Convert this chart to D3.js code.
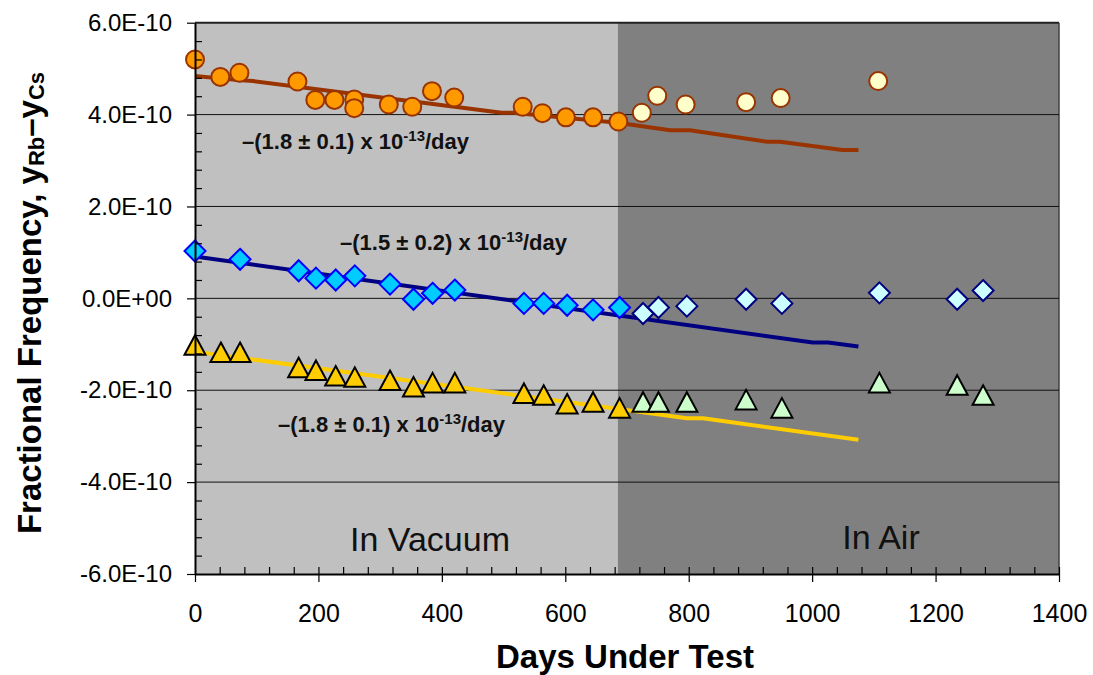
<!DOCTYPE html>
<html>
<head>
<meta charset="utf-8">
<script src="https://cdn.jsdelivr.net/npm/d3@7"></script>
<style>
  body { margin: 0; background: #fff; }
  text { font-family: "Liberation Sans", Arial, sans-serif; }
</style>
</head>
<body>
<svg id="chart" width="1093" height="675"></svg>
<script>
// all frequency values are in units of 1E-10
const vacuumEnd = 685; // day the clocks left the vacuum chamber

// Rb (circles)
const rbVacDays = [0, 41, 72, 166, 195, 226, 258, 258, 314, 352, 384, 420, 531, 563, 601, 645, 686];
const rbVacVals = [5.20, 4.82, 4.91, 4.72, 4.32, 4.32, 4.33, 4.14, 4.22, 4.17, 4.51, 4.37, 4.17, 4.03, 3.94, 3.94, 3.85];
const rbAirDays = [724, 749, 795, 893, 949, 1107];
const rbAirVals = [4.04, 4.41, 4.22, 4.27, 4.36, 4.73];
const rbFitDays = [0, 70, 94, 497, 515, 685, 770, 802, 927, 948, 1049, 1075];
const rbFitVals = [4.84, 4.75, 4.73, 4.04, 4.04, 3.82, 3.66, 3.66, 3.41, 3.41, 3.23, 3.23];

// diamonds
const dVacDays = [0, 73, 168, 196, 228, 259, 316, 354, 385, 421, 533, 565, 603, 645, 688];
const dVacVals = [1.03, 0.85, 0.60, 0.44, 0.40, 0.49, 0.31, -0.02, 0.11, 0.18, -0.11, -0.11, -0.15, -0.25, -0.20];
const dAirDays = [726, 751, 797, 893, 951, 1109, 1235, 1277];
const dAirVals = [-0.33, -0.20, -0.17, -0.02, -0.11, 0.12, -0.02, 0.17];
const dFitDays = [0, 1001, 1026, 1075];
const dFitVals = [0.91, -0.96, -0.96, -1.05];

// triangles
const tVacDays = [0, 42, 73, 168, 196, 228, 259, 316, 354, 385, 421, 533, 565, 603, 645, 688];
const tVacVals = [-1.02, -1.18, -1.18, -1.51, -1.57, -1.69, -1.72, -1.79, -1.93, -1.84, -1.84, -2.07, -2.11, -2.30, -2.26, -2.39];
const tAirDays = [726, 751, 797, 893, 951, 1109, 1235, 1277];
const tAirVals = [-2.26, -2.26, -2.26, -2.21, -2.39, -1.84, -1.89, -2.11];
const tFitDays = [0, 797, 823, 1075];
const tFitVals = [-1.16, -2.61, -2.61, -3.08];

const xTicks = [0, 200, 400, 600, 800, 1000, 1200, 1400];
const yTicks = [-6, -4, -2, 0, 2, 4, 6];

const svg = d3.select("#chart");
const font = "'Liberation Sans', Arial, sans-serif";

const x = d3.scaleLinear().domain([0, 1400]).range([195, 1059]);
const y = d3.scaleLinear().domain([-6, 6]).range([574, 22.7]);

// shaded regions
svg.append("rect")
  .attr("x", x(0)).attr("y", y(6))
  .attr("width", x(vacuumEnd) - x(0)).attr("height", y(-6) - y(6))
  .attr("fill", "#c0c0c0");
svg.append("rect")
  .attr("x", x(vacuumEnd)).attr("y", y(6))
  .attr("width", x(1400) - x(vacuumEnd)).attr("height", y(-6) - y(6))
  .attr("fill", "#808080");
svg.append("line")
  .attr("x1", x(1400)).attr("x2", x(1400)).attr("y1", y(6)).attr("y2", y(-6))
  .attr("stroke", "#404040").attr("stroke-width", 1.5);

// gridlines
svg.append("g")
  .selectAll("line")
  .data(yTicks.filter((d) => d > -6))
  .join("line")
  .attr("x1", x(0)).attr("x2", x(1400))
  .attr("y1", (d) => y(d)).attr("y2", (d) => y(d))
  .attr("stroke", (d) => d === 6 ? "#222" : "#111")
  .attr("stroke-width", (d) => d === 6 ? 2 : 1);

// region labels
svg.append("text").attr("x", 430).attr("y", 551)
  .attr("text-anchor", "middle").attr("font-size", 34).attr("fill", "#111")
  .text("In Vacuum");
svg.append("text").attr("x", 881).attr("y", 549)
  .attr("text-anchor", "middle").attr("font-size", 34).attr("fill", "#111")
  .text("In Air");

// fit lines
const line = d3.line().x((d) => x(d[0])).y((d) => y(d[1]));
const fits = [
  [rbFitDays, rbFitVals, "#993300"],
  [dFitDays, dFitVals, "#000080"],
  [tFitDays, tFitVals, "#ffcc00"]
];
fits.forEach(([days, vals, color]) => {
  svg.append("path")
    .datum(d3.zip(days, vals))
    .attr("d", line)
    .attr("fill", "none")
    .attr("stroke", color)
    .attr("stroke-width", 4)
    .attr("stroke-linejoin", "round");
});

// markers
function markers(days, vals, shape, fill, stroke) {
  svg.append("g")
    .selectAll("path")
    .data(d3.zip(days, vals))
    .join("path")
    .attr("transform", (d) => `translate(${x(d[0])},${y(d[1])})`)
    .attr("d", shape)
    .attr("fill", fill)
    .attr("stroke", stroke)
    .attr("stroke-width", 2)
    .attr("stroke-linejoin", "miter");
}
const circle = "M9,0A9,9 0 1,1 -9,0A9,9 0 1,1 9,0Z";
const diamond = "M0,-10.5L10.5,0L0,10.5L-10.5,0Z";
const triangle = "M0,-10L10.5,9.5L-10.5,9.5Z";

markers(rbVacDays, rbVacVals, circle, "#ff9900", "#993300");
markers(rbAirDays, rbAirVals, circle, "#ffffcc", "#993300");
markers(dVacDays, dVacVals, diamond, "#00ccff", "#0000ff");
markers(dAirDays, dAirVals, diamond, "#ccffff", "#000080");
markers(tVacDays, tVacVals, triangle, "#ffcc00", "#000");
markers(tAirDays, tAirVals, triangle, "#ccffcc", "#000");

// slope annotations
function note(px, py, rate, err) {
  const t = svg.append("text").attr("x", px).attr("y", py)
    .attr("font-size", 22).attr("font-weight", "bold").attr("fill", "#111");
  t.append("tspan").text(`\u2013(${rate} \u00b1 ${err}) x 10`);
  t.append("tspan").attr("font-size", 15).attr("dy", -8).text("-13");
  t.append("tspan").attr("dy", 8).text("/day");
}
note(242, 149, "1.8", "0.1");
note(340, 250, "1.5", "0.2");
note(278, 432, "1.8", "0.1");

// axes
const fmt = (v) => v === 0 ? "0.0E+00" : `${v.toFixed(1)}E-10`;

const yAxis = svg.append("g")
  .attr("transform", `translate(${x(0)},0)`)
  .call(d3.axisLeft(y).tickValues(yTicks).tickSize(8).tickSizeOuter(0).tickPadding(15).tickFormat(fmt));
svg.append("g")
  .attr("transform", `translate(${x(0)},0)`)
  .call(d3.axisRight(y).tickValues(d3.range(-6, 6.01, 0.4).filter((v) => Math.abs(v / 2 - Math.round(v / 2)) > 0.01))
    .tickSize(7).tickSizeOuter(0).tickFormat(""))
  .call((g) => g.select(".domain").remove());

const xAxis = svg.append("g")
  .attr("transform", `translate(0,${y(-6)})`)
  .call(d3.axisBottom(x).tickValues(xTicks).tickSize(8).tickSizeOuter(0).tickPadding(22).tickFormat(d3.format("d")));
svg.append("g")
  .attr("transform", `translate(0,${y(-6)})`)
  .call(d3.axisTop(x).tickValues(d3.range(0, 1401, 40).filter((v) => v > 0))
    .tickSize(7).tickSizeOuter(0).tickFormat(""))
  .call((g) => g.select(".domain").remove());

[yAxis, xAxis].forEach((g) => {
  g.attr("font-size", 25).attr("font-family", font);
  g.select(".domain").attr("stroke", "#000").attr("stroke-width", 2);
  g.selectAll(".tick text").attr("fill", "#000");
});
yAxis.selectAll(".tick text").attr("font-size", 24);
svg.selectAll(".tick line").attr("stroke", "#000").attr("stroke-width", 1.2);

// axis titles
svg.append("text")
  .attr("x", 625).attr("y", 668)
  .attr("text-anchor", "middle").attr("font-size", 33).attr("font-weight", "bold")
  .text("Days Under Test");

const yt = svg.append("text")
  .attr("transform", "translate(41,303) rotate(-90)")
  .attr("text-anchor", "middle").attr("font-size", 33).attr("font-weight", "bold");
yt.append("tspan").text("Fractional Frequency, y");
yt.append("tspan").attr("font-size", 22).attr("dy", 3).text("Rb");
yt.append("tspan").attr("dy", -3).text("\u2013y");
yt.append("tspan").attr("font-size", 22).attr("dy", 3).text("Cs");
</script>
</body>
</html>
